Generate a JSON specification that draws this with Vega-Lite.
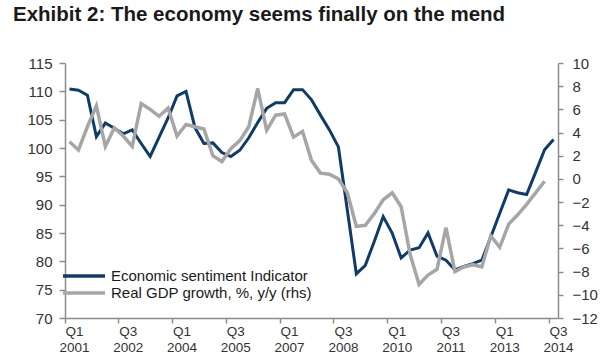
{
  "$schema": "https://vega.github.io/schema/vega-lite/v6.json",
  "width": 493,
  "height": 255,
  "autosize": {"type": "none"},
  "padding": {"left": 65, "top": 63, "right": 42, "bottom": 42},
  "background": "white",
  "title": {
    "text": "Exhibit 2: The economy seems finally on the mend",
    "anchor": "start",
    "frame": "group",
    "dx": -52,
    "offset": 31,
    "font": "Liberation Sans",
    "fontSize": 20.5,
    "fontWeight": "bold",
    "color": "#1a1a1a"
  },
  "config": {
    "view": {"stroke": null},
    "font": "Liberation Sans",
    "axis": {
      "grid": false,
      "title": null,
      "domainColor": "#8c8c8c",
      "tickColor": "#8c8c8c",
      "domainWidth": 1.5,
      "tickWidth": 1.5,
      "labelColor": "#333333",
      "labelFontSize": 15,
      "labelFont": "Liberation Sans"
    }
  },
  "data": {
    "values": [
      {"q": "Q1 2001", "esi": 110.4, "gdp": 3.2},
      {"q": "Q2 2001", "esi": 110.2, "gdp": 2.5},
      {"q": "Q3 2001", "esi": 109.3, "gdp": 4.5},
      {"q": "Q4 2001", "esi": 102.0, "gdp": 6.3},
      {"q": "Q1 2002", "esi": 104.4, "gdp": 2.8},
      {"q": "Q2 2002", "esi": 103.5, "gdp": 4.4},
      {"q": "Q3 2002", "esi": 102.5, "gdp": 3.7},
      {"q": "Q4 2002", "esi": 103.2, "gdp": 2.8},
      {"q": "Q1 2003", "esi": 100.8, "gdp": 6.5},
      {"q": "Q2 2003", "esi": 98.5, "gdp": 6.0},
      {"q": "Q3 2003", "esi": 101.9, "gdp": 5.4},
      {"q": "Q4 2003", "esi": 105.3, "gdp": 6.1},
      {"q": "Q1 2004", "esi": 109.2, "gdp": 3.7},
      {"q": "Q2 2004", "esi": 110.0, "gdp": 4.7},
      {"q": "Q3 2004", "esi": 103.6, "gdp": 4.5},
      {"q": "Q4 2004", "esi": 100.8, "gdp": 4.3},
      {"q": "Q1 2005", "esi": 100.9, "gdp": 2.0},
      {"q": "Q2 2005", "esi": 99.2, "gdp": 1.5},
      {"q": "Q3 2005", "esi": 98.5, "gdp": 2.6},
      {"q": "Q4 2005", "esi": 99.6, "gdp": 3.3},
      {"q": "Q1 2006", "esi": 101.8, "gdp": 4.5},
      {"q": "Q2 2006", "esi": 104.5, "gdp": 7.8},
      {"q": "Q3 2006", "esi": 107.0, "gdp": 4.2},
      {"q": "Q4 2006", "esi": 108.0, "gdp": 5.5},
      {"q": "Q1 2007", "esi": 108.0, "gdp": 5.6},
      {"q": "Q2 2007", "esi": 110.3, "gdp": 3.6},
      {"q": "Q3 2007", "esi": 110.3, "gdp": 4.1},
      {"q": "Q4 2007", "esi": 108.5, "gdp": 1.6},
      {"q": "Q1 2008", "esi": 105.8, "gdp": 0.5},
      {"q": "Q2 2008", "esi": 103.2, "gdp": 0.4},
      {"q": "Q3 2008", "esi": 100.2, "gdp": 0.0},
      {"q": "Q4 2008", "esi": 89.0, "gdp": -1.2},
      {"q": "Q1 2009", "esi": 77.8, "gdp": -4.1},
      {"q": "Q2 2009", "esi": 79.3, "gdp": -4.0},
      {"q": "Q3 2009", "esi": 83.5, "gdp": -3.0},
      {"q": "Q4 2009", "esi": 87.9, "gdp": -1.8},
      {"q": "Q1 2010", "esi": 85.0, "gdp": -1.2},
      {"q": "Q2 2010", "esi": 80.6, "gdp": -2.4},
      {"q": "Q3 2010", "esi": 82.0, "gdp": -6.5},
      {"q": "Q4 2010", "esi": 82.4, "gdp": -9.1},
      {"q": "Q1 2011", "esi": 85.0, "gdp": -8.3},
      {"q": "Q2 2011", "esi": 80.9, "gdp": -7.8},
      {"q": "Q3 2011", "esi": 80.2, "gdp": -4.2},
      {"q": "Q4 2011", "esi": 78.5, "gdp": -8.0},
      {"q": "Q1 2012", "esi": 79.1, "gdp": -7.6},
      {"q": "Q2 2012", "esi": 79.6, "gdp": -7.4},
      {"q": "Q3 2012", "esi": 80.2, "gdp": -7.6},
      {"q": "Q4 2012", "esi": 84.3, "gdp": -4.9},
      {"q": "Q1 2013", "esi": 88.5, "gdp": -5.9},
      {"q": "Q2 2013", "esi": 92.6, "gdp": -3.9},
      {"q": "Q3 2013", "esi": 92.1, "gdp": -3.1},
      {"q": "Q4 2013", "esi": 91.8, "gdp": -2.2},
      {"q": "Q1 2014", "esi": 95.7, "gdp": -1.2},
      {"q": "Q2 2014", "esi": 99.7, "gdp": -0.2},
      {"q": "Q3 2014", "esi": 101.5, "gdp": null}
    ]
  },
  "encoding": {
    "x": {
      "field": "q",
      "type": "ordinal",
      "sort": null,
      "bandPosition": 0.5,
      "scale": {"type": "band", "paddingInner": 0, "paddingOuter": 0},
      "axis": {
        "values": ["Q1 2001", "Q3 2002", "Q1 2004", "Q3 2005", "Q1 2007", "Q3 2008", "Q1 2010", "Q3 2011", "Q1 2013", "Q3 2014"],
        "bandPosition": 0,
        "labelOffset": 5,
        "labelAngle": 0,
        "labelAlign": "center",
        "labelBaseline": "top",
        "labelExpr": "split(datum.label, ' ')",
        "labelFontSize": 13.5,
        "labelLineHeight": 16,
        "labelOverlap": false,
        "labelPadding": 1,
        "tickSize": 5
      }
    }
  },
  "layer": [
    {
      "mark": {"type": "line", "strokeWidth": 3},
      "encoding": {
        "y": {
          "field": "esi",
          "type": "quantitative",
          "scale": {"domain": [70, 115], "nice": false, "zero": false},
          "axis": {"orient": "left", "values": [70, 75, 80, 85, 90, 95, 100, 105, 110, 115], "tickSize": 6, "labelPadding": 7}
        },
        "color": {
          "datum": "Economic sentiment Indicator",
          "scale": {
            "domain": ["Economic sentiment Indicator", "Real GDP growth, %, y/y (rhs)"],
            "range": ["#0f3b69", "#a6a6a6"]
          },
          "legend": {
            "orient": "none",
            "legendX": 10,
            "legendY": 204,
            "title": null,
            "symbolType": "M-3,0H3",
            "symbolSize": 196,
            "symbolStrokeWidth": 3.5,
            "symbolFillColor": "transparent",
            "labelFontSize": 15,
            "labelColor": "#1a1a1a",
            "labelOffset": 18,
            "labelLimit": 400,
            "rowPadding": -2
          }
        }
      }
    },
    {
      "mark": {"type": "line", "strokeWidth": 3.5},
      "encoding": {
        "y": {
          "field": "gdp",
          "type": "quantitative",
          "scale": {"domain": [-12, 10], "nice": false, "zero": false},
          "axis": {"orient": "right", "values": [-12, -10, -8, -6, -4, -2, 0, 2, 4, 6, 8, 10], "tickSize": 5, "labelPadding": 9}
        },
        "color": {"datum": "Real GDP growth, %, y/y (rhs)"}
      }
    }
  ],
  "resolve": {"scale": {"y": "independent"}}
}
